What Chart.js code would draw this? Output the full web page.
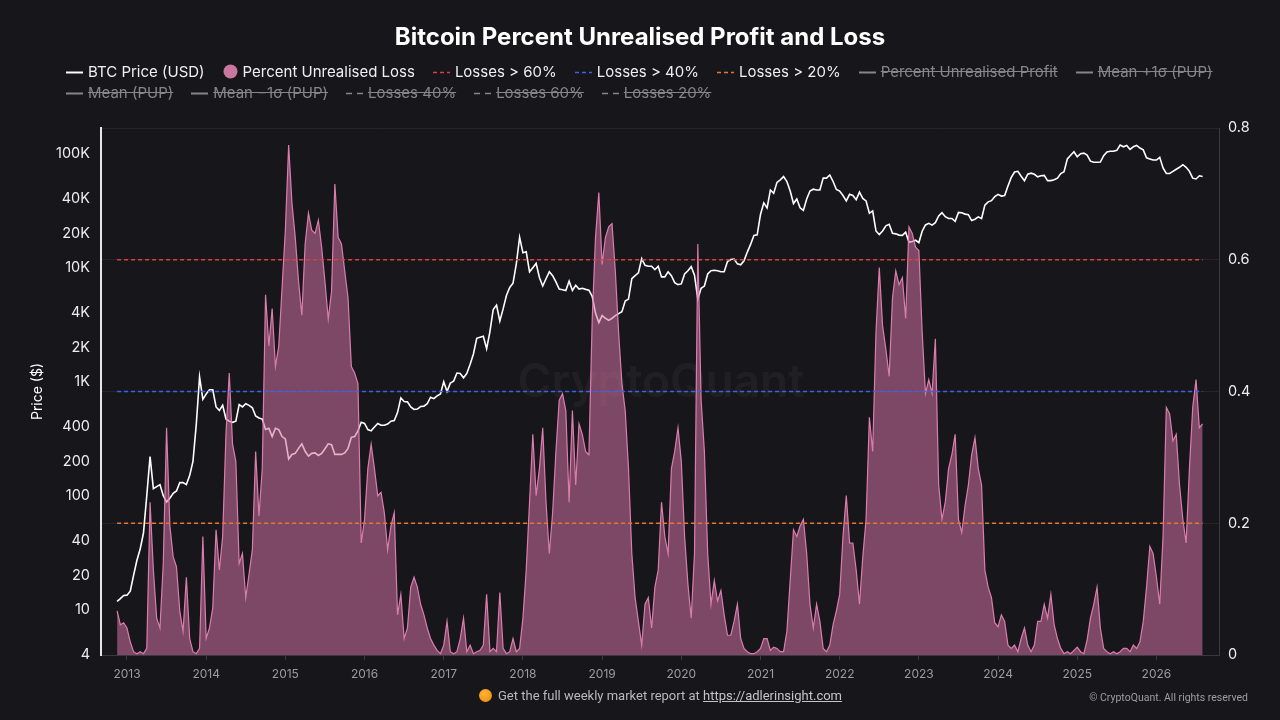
<!DOCTYPE html>
<html>
<head>
<meta charset="utf-8">
<script src="https://cdn.jsdelivr.net/npm/chart.js@4.4.1/dist/chart.umd.min.js"></script>
<style>
html,body{margin:0;padding:0;background:#16161b;width:1280px;height:720px;overflow:hidden;font-family:Inter,"Noto Sans",sans-serif;}
#wrap{position:relative;width:1280px;height:720px;}
#chart{position:absolute;left:0;top:0;}
#title{position:absolute;top:21px;left:0;width:1280px;text-align:center;color:#ffffff;font-weight:700;font-size:24px;line-height:32px;}
#legend{position:absolute;left:66px;top:61px;width:1180px;display:flex;flex-wrap:wrap;}
.item{display:flex;align-items:center;height:21px;margin-right:18px;font-size:15px;color:#efeff1;white-space:nowrap;}
.item.off{color:#85858b;text-decoration:line-through;}
.sym{margin-right:5px;display:block;}
#footer{position:absolute;left:479px;top:686px;font-family:Roboto,"Noto Sans",sans-serif;font-size:13px;color:#b9b9bd;display:flex;align-items:center;height:18px;}
#footer .dot{width:13px;height:13px;border-radius:50%;background:radial-gradient(circle at 40% 35%,#ffb23a,#f08a00);margin-right:6px;}
#footer u{color:#c4c4c8;}
#copy{position:absolute;right:32px;top:691px;font-family:Roboto,"Noto Sans",sans-serif;font-size:10.5px;color:#9d9da3;}
</style>
</head>
<body>
<div id="wrap">
<canvas id="chart" width="1280" height="720"></canvas>
<div id="title">Bitcoin Percent Unrealised Profit and Loss</div>
<div id="legend"></div>
<div id="footer"><span class="dot"></span>Get the full weekly market report at&nbsp;<u>https://adlerinsight.com</u></div>
<div id="copy">© CryptoQuant. All rights reserved</div>
</div>
<script>
// ---- data (semi-monthly samples, first sample mid-Nov 2012) ----
const START = 2012.875;
const STEP = 1 / 24;
const yearTicks = [2013,2014,2015,2016,2017,2018,2019,2020,2021,2022,2023,2024,2025,2026];
const priceTicks = [4,10,20,40,100,200,400,1000,2000,4000,10000,20000,40000,100000];
const lossTicks = [0,0.2,0.4,0.6,0.8];
const thresholds = [0.6,0.4,0.2];

const btcPrice = [
11.8,12.5,13.3,13.4,14.5,20,27,34,47,100,
220,115,120,125,100,88,95,105,110,130,
130,125,150,200,420,1100,700,780,850,850,
600,560,620,470,450,440,450,630,600,640,
620,590,500,480,470,380,390,330,390,380,
330,315,210,230,235,260,285,245,222,235,
237,225,235,258,285,280,230,230,230,237,
260,325,330,370,440,430,380,370,400,430,
415,415,425,450,455,535,720,670,665,600,
570,575,605,610,640,730,710,750,780,1000,
820,970,1010,1190,1180,1080,1180,1420,1750,2400,
2450,2500,1950,2750,4300,4700,3400,4350,5700,6700,
7300,10800,18500,13500,13800,9200,10000,10900,8200,6900,
8000,9200,8500,7500,6500,6400,6300,7600,6300,7000,
6500,6600,6450,6350,5600,4000,3300,3800,3600,3450,
3600,3800,3950,4100,5100,5300,8000,8500,9000,12000,
10500,10300,10300,9600,10300,8300,8300,9200,8500,7400,
7100,7200,8800,9400,10200,8600,5300,6600,6900,8800,
9400,9500,9400,9200,9200,11300,11800,11900,10800,10600,
11500,13700,16000,19200,19400,29300,37000,33500,48000,45000,
56000,59000,63000,57000,47000,36500,40000,33500,31800,40000,
47000,48800,48000,48000,61000,61000,65000,57000,48500,47000,
43000,38500,44000,43000,39500,46000,40500,38500,30000,31500,
21000,19500,21000,23300,24000,20000,19800,19300,19200,20500,
16700,17000,17400,16600,20900,23700,24500,23600,24800,28400,
30400,28000,27000,27000,25500,30500,30300,29500,29200,25900,
26600,27900,27000,35400,37800,38700,42000,44000,42500,43000,
52000,62000,69000,70000,63500,58000,66000,67500,66000,62700,
64000,64500,58000,58000,59000,61000,67000,69500,90000,97000,
104000,94000,100000,101000,97000,86000,84000,84000,84500,96000,
103500,105000,105000,107000,119000,115000,118000,109000,115000,118000,
112000,108000,92000,90000,88000,88000,93000,75000,67000,67000,
70000,73000,76000,80000,76000,70000,61000,60000,64000,63000
];

const unrealisedLoss = [
0.067,0.046,0.049,0.041,0.02,0.005,0.002,0.005,0.002,0.01,
0.232,0.129,0.056,0.041,0.139,0.345,0.196,0.149,0.134,0.067,
0.036,0.118,0.025,0.005,0.002,0.01,0.18,0.025,0.041,0.072,
0.19,0.129,0.18,0.335,0.428,0.32,0.294,0.139,0.154,0.087,
0.123,0.16,0.309,0.211,0.283,0.547,0.469,0.526,0.438,0.469,
0.557,0.645,0.774,0.686,0.634,0.567,0.516,0.624,0.671,0.645,
0.64,0.66,0.619,0.567,0.51,0.552,0.715,0.634,0.624,0.583,
0.542,0.438,0.428,0.412,0.17,0.206,0.283,0.32,0.283,0.242,
0.247,0.216,0.16,0.196,0.216,0.061,0.092,0.025,0.041,0.103,
0.118,0.103,0.077,0.061,0.041,0.025,0.015,0.007,0.002,0.015,
0.051,0.005,0.002,0.005,0.025,0.056,0.005,0.015,0.002,0.005,
0.007,0.015,0.092,0.005,0.01,0.005,0.095,0.01,0.002,0.005,
0.025,0.005,0.01,0.056,0.129,0.232,0.335,0.242,0.283,0.345,
0.232,0.154,0.216,0.309,0.387,0.397,0.371,0.232,0.371,0.258,
0.351,0.335,0.309,0.304,0.51,0.634,0.702,0.593,0.634,0.65,
0.655,0.583,0.49,0.412,0.371,0.283,0.154,0.087,0.051,0.015,
0.077,0.087,0.041,0.103,0.129,0.232,0.18,0.154,0.283,0.309,
0.345,0.294,0.18,0.108,0.056,0.154,0.624,0.387,0.309,0.154,
0.077,0.113,0.082,0.098,0.061,0.03,0.03,0.051,0.077,0.025,
0.01,0.005,0.002,0.002,0.005,0.01,0.025,0.025,0.007,0.012,
0.01,0.005,0.005,0.036,0.113,0.19,0.18,0.196,0.206,0.154,
0.077,0.041,0.077,0.051,0.01,0.005,0.015,0.046,0.067,0.092,
0.18,0.242,0.17,0.17,0.129,0.077,0.149,0.206,0.361,0.309,
0.49,0.588,0.5,0.464,0.423,0.542,0.583,0.562,0.573,0.511,
0.65,0.64,0.619,0.614,0.49,0.397,0.418,0.397,0.48,0.258,
0.206,0.232,0.283,0.304,0.335,0.206,0.186,0.227,0.258,0.304,
0.33,0.283,0.258,0.129,0.103,0.087,0.049,0.043,0.061,0.051,
0.015,0.01,0.015,0.005,0.025,0.041,0.015,0.005,0.015,0.051,
0.051,0.077,0.056,0.092,0.046,0.025,0.01,0.002,0.005,0.002,
0.007,0.012,0.005,0.002,0.023,0.056,0.077,0.103,0.041,0.01,
0.005,0.002,0.005,0.002,0.005,0.01,0.01,0.005,0.015,0.01,
0.02,0.051,0.103,0.165,0.154,0.118,0.077,0.18,0.376,0.366,
0.325,0.335,0.258,0.206,0.17,0.283,0.376,0.418,0.345,0.351
];

// ---- build chart data from the arrays ----
const times = btcPrice.map((_, i) => START + i * STEP);
const toPoints = vals => vals.map((v, i) => ({x: times[i], y: v}));
const flat = v => [{x: times[0], y: v}, {x: times[times.length - 1], y: v}];
const fmtPrice = v => v >= 1000 ? (v / 1000) + 'K' : String(v);

const datasets = [
  {label:'BTC Price (USD)', data: toPoints(btcPrice), yAxisID:'yPrice', borderColor:'#ffffff', borderWidth:1.6, pointRadius:0, fill:false, order:3},
  {label:'Percent Unrealised Loss', data: toPoints(unrealisedLoss), yAxisID:'yLoss', borderColor:'rgba(228,130,180,0.95)', backgroundColor:'rgba(210,115,162,0.55)', borderWidth:1.2, pointRadius:0, fill:'origin', order:2, legendDot:'#c8789e'},
  {label:'Losses > 60%', data: flat(thresholds[0]), yAxisID:'yLoss', borderColor:'#d9413a', borderWidth:1.3, borderDash:[4,3], pointRadius:0, fill:false, order:1},
  {label:'Losses > 40%', data: flat(thresholds[1]), yAxisID:'yLoss', borderColor:'#3a63e6', borderWidth:1.3, borderDash:[4,3], pointRadius:0, fill:false, order:1},
  {label:'Losses > 20%', data: flat(thresholds[2]), yAxisID:'yLoss', borderColor:'#e5772f', borderWidth:1.3, borderDash:[4,3], pointRadius:0, fill:false, order:1},
  {label:'Percent Unrealised Profit', data: [], yAxisID:'yLoss', hidden:true, borderColor:'#7a7a80', pointRadius:0},
  {label:'Mean +1σ (PUP)', data: [], yAxisID:'yLoss', hidden:true, borderColor:'#7a7a80', pointRadius:0},
  {label:'Mean (PUP)', data: [], yAxisID:'yLoss', hidden:true, borderColor:'#7a7a80', pointRadius:0},
  {label:'Mean −1σ (PUP)', data: [], yAxisID:'yLoss', hidden:true, borderColor:'#7a7a80', pointRadius:0},
  {label:'Losses 40%', data: [], yAxisID:'yLoss', hidden:true, borderColor:'#7a7a80', borderDash:[6,5], pointRadius:0},
  {label:'Losses 60%', data: [], yAxisID:'yLoss', hidden:true, borderColor:'#7a7a80', borderDash:[6,5], pointRadius:0},
  {label:'Losses 20%', data: [], yAxisID:'yLoss', hidden:true, borderColor:'#7a7a80', borderDash:[6,5], pointRadius:0}
];

const watermark = {
  id: 'watermark',
  beforeDatasetsDraw(chart) {
    const {ctx, chartArea: a} = chart;
    ctx.save();
    ctx.font = '600 46px Inter, sans-serif';
    ctx.fillStyle = 'rgba(255,255,255,0.045)';
    ctx.textAlign = 'center';
    ctx.textBaseline = 'middle';
    ctx.fillText('CryptoQuant', (a.left + a.right) / 2 + 1, a.top + (a.bottom - a.top) * 0.485);
    ctx.restore();
  }
};

const chart = new Chart(document.getElementById('chart'), {
  type: 'line',
  data: {datasets},
  plugins: [watermark],
  options: {
    responsive: false,
    animation: false,
    events: [],
    layout: {padding: {top: 128, left: 0, right: 0, bottom: 0}},
    plugins: {legend: {display: false}, tooltip: {enabled: false}, title: {display: false}},
    elements: {line: {tension: 0}},
    scales: {
      x: {
        type: 'linear', min: 2012.672, max: 2026.79,
        afterBuildTicks: s => { s.ticks = yearTicks.map(v => ({value: v})); },
        afterFit: s => { s.height = 65; },
        ticks: {color: '#9b9ba1', font: {size: 12, family: 'Inter'}, padding: 7, autoSkip: false, maxRotation: 0, callback: v => String(v)},
        grid: {display: true, drawOnChartArea: false, drawTicks: true, tickLength: 5, color: '#3a3a42'},
        border: {color: '#3a3a42', width: 1}
      },
      yPrice: {
        type: 'logarithmic', position: 'left', min: 4, max: 168000,
        afterBuildTicks: s => { s.ticks = priceTicks.map(v => ({value: v})); },
        afterFit: s => { s.width = 101; },
        ticks: {color: '#ededed', font: {size: 14.5, family: 'Inter'}, padding: 11, autoSkip: false, callback: v => fmtPrice(v)},
        grid: {display: true, drawOnChartArea: false, drawTicks: false},
        border: {display: true, color: '#e6e6e6', width: 2},
        title: {display: true, text: 'Price ($)', color: '#ffffff', font: {size: 14, family: 'Inter'}, padding: {top: 29, bottom: 0}}
      },
      yLoss: {
        type: 'linear', position: 'right', min: 0, max: 0.8,
        afterBuildTicks: s => { s.ticks = lossTicks.map(v => ({value: v})); },
        afterFit: s => { s.width = 61; },
        ticks: {color: '#ededed', font: {size: 14.5, family: 'Inter'}, padding: 9, autoSkip: false, callback: v => v === 0 ? '0' : v.toFixed(1)},
        grid: {color: '#25252c', drawTicks: false},
        border: {color: '#3a3a42', width: 1}
      }
    }
  }
});

// ---- HTML legend built from the chart's datasets ----
const legend = document.getElementById('legend');
chart.data.datasets.forEach(ds => {
  const item = document.createElement('div');
  item.className = 'item' + (ds.hidden ? ' off' : '');
  const col = ds.hidden ? '#85858b' : ds.borderColor;
  let svg;
  if (ds.legendDot) {
    svg = `<svg class="sym" width="15" height="15"><circle cx="7.5" cy="7.5" r="7" fill="${ds.legendDot}"/></svg>`;
  } else {
    const dash = ds.borderDash ? ds.borderDash.join(',') : 'none';
    svg = `<svg class="sym" width="17" height="10"><line x1="0" y1="5.5" x2="17" y2="5.5" stroke="${col}" stroke-width="${ds.borderDash ? 1.6 : 2}" stroke-dasharray="${dash}"/></svg>`;
  }
  item.innerHTML = svg + '<span>' + ds.label + '</span>';
  legend.appendChild(item);
});
</script>
</body>
</html>
